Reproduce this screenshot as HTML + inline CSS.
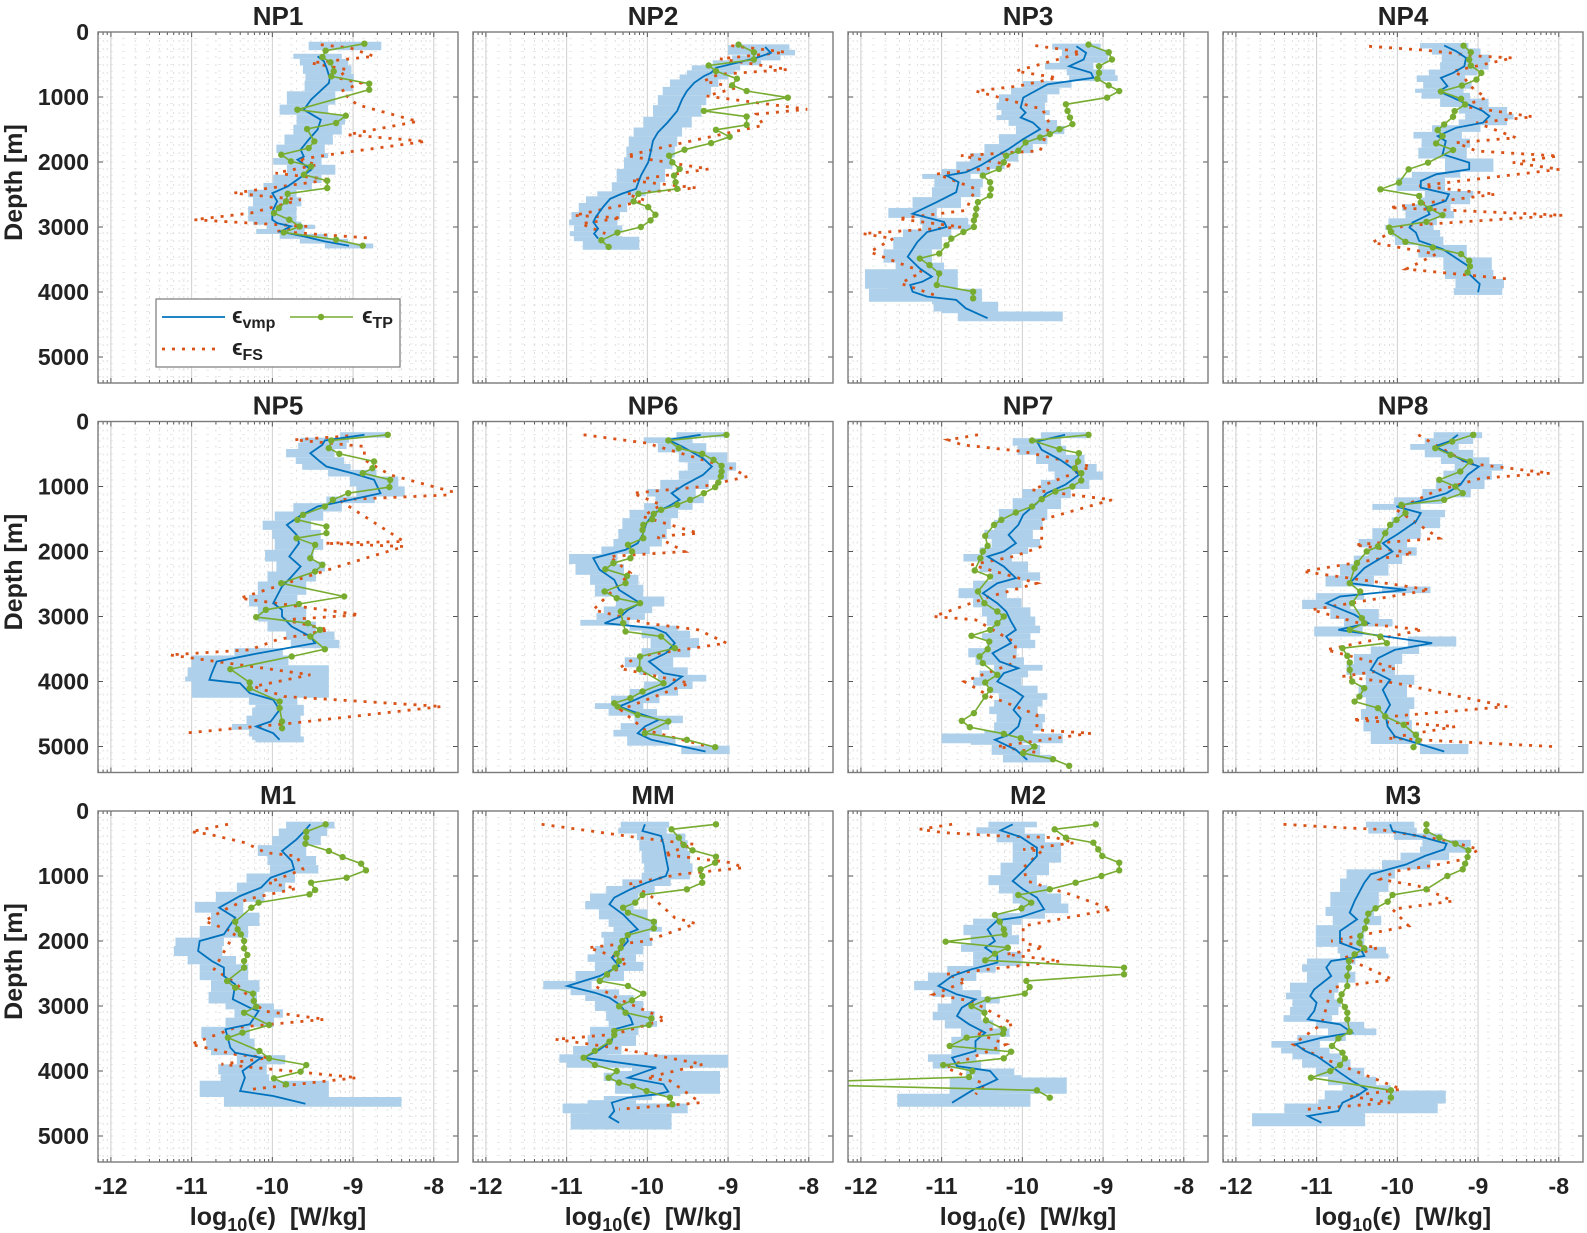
<!DOCTYPE html>
<html><head><meta charset="utf-8"><title>Dissipation profiles</title>
<style>
html,body{margin:0;padding:0;background:#fff;}
svg{display:block;font-family:"Liberation Sans",Arial,sans-serif;}
</style></head>
<body>
<svg id="fig" width="1587" height="1233" viewBox="0 0 1587 1233" xmlns="http://www.w3.org/2000/svg"></svg>
<script>
// ---------- data: [depth (m), log10(eps)] ----------
const np1Vmp=[[375,-9.44],[450,-9.36],[580,-9.32],[710,-9.29],[785,-9.30],[1040,-9.52],[1195,-9.61],[1350,-9.40],[1500,-9.44],[1655,-9.55],[1810,-9.65],[1915,-9.61],[1965,-9.69],[2120,-9.52],[2270,-9.69],[2375,-9.81],[2480,-10.0],[2605,-9.94],[2760,-10.0],[2890,-10.0],[2940,-9.94],[2990,-9.77],[3070,-9.90],[3145,-9.61],[3220,-9.36],[3290,-9.05]];
const np1Tp=[[180,-8.86],[287,-9.34],[385,-9.38],[467,-9.28],[605,-9.24],[682,-9.27],[795,-8.80],[888,-8.80],[1195,-9.69],[1288,-9.09],[1400,-9.21],[1493,-9.57],[1683,-9.48],[1785,-9.55],[1888,-9.89],[1990,-9.77],[2068,-9.52],[2196,-9.61],[2288,-9.32],[2401,-9.32],[2488,-9.81],[2606,-9.83],[2709,-9.92],[2786,-9.98],[2888,-9.79],[2991,-9.66],[3083,-9.86],[3196,-9.21],[3288,-8.88]];
const np1Fs=[[195,-9.40],[246,-9.03],[323,-8.86],[374,-8.74],[477,-9.52],[580,-9.07],[708,-9.19],[785,-8.90],[913,-9.15],[1118,-8.95],[1375,-8.20],[1580,-9.07],[1683,-8.10],[1862,-9.15],[1965,-9.69],[2042,-9.44],[2170,-9.96],[2273,-9.28],[2478,-10.48],[2580,-9.65],[2786,-10.27],[2888,-10.97],[2991,-9.57],[3068,-9.94],[3170,-8.80]];
const np1Shade=[[150,280,-9.55,-8.65]];

const np2Vmp=[[230,-8.54],[321,-8.47],[398,-8.65],[474,-8.89],[551,-9.15],[628,-9.21],[679,-9.30],[781,-9.42],[908,-9.51],[1036,-9.57],[1214,-9.63],[1393,-9.75],[1546,-9.87],[1673,-9.93],[1852,-9.96],[2005,-9.99],[2209,-10.08],[2413,-10.14],[2490,-10.32],[2566,-10.46],[2694,-10.55],[2847,-10.64],[2923,-10.67],[3026,-10.61],[3102,-10.66],[3179,-10.61]];
const np2Tp=[[194,-8.87],[311,-8.68],[423,-8.68],[515,-9.24],[602,-9.15],[719,-8.89],[821,-8.95],[908,-8.77],[1010,-8.26],[1214,-9.30],[1301,-8.77],[1429,-8.77],[1505,-9.15],[1612,-8.98],[1709,-9.21],[1811,-9.54],[1903,-9.73],[2005,-9.69],[2107,-9.60],[2209,-9.67],[2311,-9.65],[2413,-9.63],[2490,-10.11],[2607,-10.17],[2694,-9.99],[2811,-9.90],[2898,-9.96],[3000,-10.08],[3087,-10.37],[3204,-10.57],[3306,-10.48]];
const np2Fs=[[209,-8.96],[311,-8.29],[413,-9.10],[577,-8.26],[653,-9.12],[755,-9.30],[857,-8.89],[985,-9.27],[1189,-8.02],[1265,-8.65],[1434,-8.56],[1699,-9.54],[1903,-10.26],[2107,-9.24],[2286,-10.20],[2398,-9.39],[2490,-10.26],[2592,-10.02],[2821,-10.91],[2860,-10.32],[2949,-10.82],[3102,-10.52]];
const np2Shade=[[200,350,-9.0,-8.3],[3150,3350,-10.8,-10.1]];

const np3Vmp=[[219,-9.33],[321,-9.21],[423,-9.24],[526,-9.42],[628,-9.15],[704,-9.12],[806,-9.69],[908,-9.84],[1010,-9.99],[1163,-10.02],[1240,-9.96],[1316,-10.02],[1393,-9.87],[1495,-9.78],[1648,-9.99],[1801,-10.17],[1929,-10.35],[2056,-10.52],[2158,-10.70],[2209,-10.94],[2311,-10.79],[2464,-10.82],[2617,-11.06],[2796,-11.36],[2923,-10.97],[3000,-10.94],[3077,-11.18],[3230,-11.30],[3459,-11.42],[3638,-11.27],[3765,-11.12],[3842,-11.24],[3893,-11.39],[3995,-11.36],[4071,-11.18],[4122,-10.82],[4250,-10.70],[4403,-10.43]];
const np3Tp=[[194,-9.18],[311,-8.93],[423,-8.89],[526,-9.05],[628,-9.05],[719,-9.07],[821,-8.93],[908,-8.80],[1010,-8.95],[1112,-9.46],[1214,-9.44],[1316,-9.41],[1418,-9.38],[1495,-9.54],[1571,-9.66],[1622,-9.78],[1699,-9.96],[1827,-10.05],[1903,-10.20],[2005,-10.23],[2107,-10.29],[2209,-10.49],[2311,-10.40],[2413,-10.39],[2515,-10.40],[2617,-10.55],[2719,-10.57],[2821,-10.58],[2898,-10.60],[2999,-10.60],[3077,-10.73],[3179,-10.88],[3281,-10.94],[3408,-11.03],[3485,-11.27],[3587,-11.15],[3714,-11.03],[3893,-11.06],[3995,-10.61],[4097,-10.61]];
const np3Fs=[[209,-9.84],[281,-9.42],[321,-9.27],[602,-10.08],[704,-9.57],[832,-10.05],[908,-10.58],[1189,-9.75],[1418,-9.66],[1827,-9.78],[1903,-10.76],[2056,-10.11],[2184,-11.06],[2413,-10.58],[2745,-10.70],[2872,-11.54],[3000,-10.76],[3102,-11.98],[3179,-11.60],[3383,-11.89],[3689,-11.24],[3867,-11.51],[4046,-11.09]];
const np3Shade=[[3650,3950,-11.95,-10.8],[3950,4150,-11.9,-10.5],[4150,4300,-11.1,-10.3],[4300,4450,-10.8,-9.5]];

const np4Vmp=[[210,-9.42],[297,-9.27],[399,-9.15],[527,-9.17],[629,-9.31],[706,-9.46],[834,-9.38],[910,-9.48],[962,-9.40],[1089,-9.17],[1217,-8.94],[1294,-8.86],[1396,-8.94],[1473,-9.27],[1601,-9.50],[1678,-9.40],[1882,-9.44],[2010,-9.11],[2113,-9.11],[2189,-9.52],[2292,-9.71],[2394,-9.71],[2496,-9.36],[2598,-9.40],[2701,-9.64],[2803,-9.60],[2931,-9.81],[3008,-9.85],[3084,-9.77],[3212,-9.73],[3340,-9.44],[3596,-9.13],[3724,-9.11],[3877,-8.98],[4005,-9.00]];
const np4Tp=[[210,-9.18],[312,-9.09],[425,-9.11],[517,-9.09],[629,-8.96],[731,-9.02],[824,-9.20],[916,-9.46],[1028,-9.21],[1115,-9.16],[1217,-9.29],[1304,-9.31],[1422,-9.42],[1509,-9.50],[1601,-9.44],[1714,-9.52],[1816,-9.31],[2010,-9.62],[2113,-9.86],[2317,-9.98],[2420,-10.21],[2522,-9.73],[2624,-9.71],[2716,-9.60],[2818,-9.44],[2921,-9.64],[3008,-10.10],[3074,-10.08],[3228,-9.90],[3315,-9.56],[3417,-9.21],[3519,-9.11],[3606,-9.10],[3698,-9.13]];
const np4Fs=[[220,-10.35],[281,-9.64],[373,-8.98],[399,-8.57],[604,-9.31],[680,-9.19],[860,-9.07],[1013,-8.90],[1141,-9.19],[1304,-8.32],[1396,-9.02],[1627,-8.53],[1703,-9.27],[1831,-9.02],[1908,-8.01],[2010,-8.57],[2113,-7.99],[2368,-9.73],[2496,-8.78],[2701,-10.10],[2818,-7.95],[2982,-9.93],[3238,-10.31],[3417,-9.52],[3647,-9.89],[3801,-8.61]];
const np4Shade=[];

const np5Vmp=[[205,-8.86],[292,-9.35],[359,-9.38],[487,-9.53],[615,-9.41],[692,-9.33],[795,-9.01],[897,-8.74],[1103,-8.66],[1205,-9.03],[1308,-9.44],[1462,-9.67],[1590,-9.82],[1744,-9.70],[1872,-9.67],[2077,-9.79],[2231,-9.65],[2385,-9.76],[2538,-9.88],[2795,-9.99],[2897,-9.88],[3000,-9.88],[3154,-9.76],[3308,-9.53],[3410,-9.47],[3564,-10.17],[3692,-10.69],[3872,-10.75],[3974,-10.78],[4026,-10.40],[4179,-10.28],[4282,-9.99],[4436,-9.91],[4615,-10.02],[4692,-10.20],[4795,-9.99],[4897,-9.91]];
const np5Tp=[[205,-8.57],[292,-9.27],[410,-9.30],[497,-9.17],[615,-8.74],[718,-8.76],[795,-8.88],[897,-8.54],[1010,-8.55],[1103,-9.06],[1205,-9.25],[1308,-9.35],[1436,-9.62],[1513,-9.69],[1615,-9.33],[1718,-9.33],[1795,-9.70],[1897,-9.47],[2103,-9.53],[2205,-9.38],[2308,-9.47],[2487,-9.89],[2692,-9.11],[2808,-9.67],[2897,-10.08],[3010,-10.20],[3103,-9.56],[3205,-9.41],[3308,-9.53],[3503,-9.35],[3615,-9.76],[3810,-10.52],[4015,-10.28],[4103,-10.28],[4308,-9.91],[4410,-9.91],[4615,-9.88],[4718,-9.88]];
const np5Fs=[[221,-9.06],[282,-9.73],[385,-8.86],[590,-8.86],[821,-8.54],[1077,-7.78],[1128,-7.78],[1205,-9.18],[1846,-8.37],[1872,-9.35],[1923,-8.37],[2231,-9.18],[2718,-10.40],[2974,-8.92],[3051,-9.85],[3205,-9.30],[3359,-9.94],[3513,-10.28],[3590,-11.27],[3897,-9.53],[4077,-10.23],[4231,-9.85],[4385,-7.90],[4641,-9.76],[4795,-11.10]];
const np5Shade=[[3600,3750,-11.0,-9.8],[3750,4250,-11.0,-9.3],[4400,4900,-10.25,-9.65]];

const np6Vmp=[[205,-9.34],[282,-9.74],[385,-9.57],[564,-9.31],[692,-9.20],[821,-9.31],[974,-9.54],[1103,-9.70],[1205,-9.60],[1308,-9.74],[1410,-9.92],[1564,-10.01],[1744,-10.06],[1872,-10.12],[1974,-10.27],[2103,-10.67],[2282,-10.59],[2436,-10.41],[2590,-10.35],[2795,-10.09],[2897,-10.24],[3000,-10.33],[3103,-10.53],[3179,-9.92],[3256,-9.77],[3410,-9.66],[3564,-9.77],[3692,-9.98],[3872,-9.80],[3923,-9.57],[4077,-9.74],[4154,-9.92],[4282,-10.15],[4385,-10.35],[4462,-10.18],[4590,-9.86],[4692,-10.03],[4795,-10.12],[4897,-9.95],[5077,-9.28]];
const np6Tp=[[205,-9.02],[292,-9.74],[410,-9.61],[497,-9.32],[590,-9.18],[682,-9.08],[769,-9.08],[846,-9.09],[938,-9.12],[1010,-9.16],[1103,-9.30],[1205,-9.47],[1282,-9.63],[1359,-9.83],[1421,-9.92],[1503,-9.94],[1590,-10.05],[1667,-10.06],[1795,-10.05],[1897,-10.24],[2000,-10.19],[2103,-10.21],[2179,-10.42],[2272,-10.52],[2374,-10.25],[2487,-10.27],[2615,-10.53],[2718,-10.38],[2795,-10.09],[2923,-10.33],[3103,-10.30],[3231,-10.27],[3308,-9.83],[3487,-9.66],[3615,-10.09],[3810,-10.10],[4026,-9.80],[4154,-10.06],[4256,-10.21],[4333,-10.41],[4385,-10.37],[4513,-10.12],[4615,-9.74],[4795,-10.03],[4897,-9.51],[5010,-9.16]];
const np6Fs=[[205,-10.79],[333,-10.01],[718,-8.96],[846,-8.76],[1000,-9.31],[1103,-10.18],[1282,-9.83],[1462,-10.06],[1718,-9.37],[1769,-9.89],[2000,-9.54],[2077,-10.47],[2333,-10.21],[2897,-10.67],[3103,-10.01],[3205,-9.37],[3410,-9.02],[3615,-10.12],[3795,-10.35],[4026,-9.48],[4436,-10.33],[4744,-10.03],[5000,-9.25]];
const np6Shade=[];

const np7Vmp=[[205,-9.47],[308,-9.82],[436,-9.76],[590,-9.53],[718,-9.38],[821,-9.30],[974,-9.47],[1103,-9.70],[1256,-9.82],[1436,-9.99],[1590,-10.05],[1744,-10.17],[1872,-10.08],[2000,-10.23],[2077,-10.43],[2231,-10.23],[2410,-10.08],[2487,-10.31],[2641,-10.49],[2795,-10.31],[2923,-10.20],[3077,-10.14],[3205,-10.08],[3308,-10.20],[3410,-10.14],[3564,-10.37],[3692,-10.28],[3795,-10.05],[3872,-10.23],[4000,-10.31],[4128,-10.11],[4231,-9.99],[4333,-10.05],[4436,-10.11],[4564,-10.02],[4692,-10.05],[4821,-10.17],[4897,-10.34],[5051,-10.08],[5205,-9.94]];
const np7Tp=[[205,-9.18],[292,-9.88],[426,-9.54],[487,-9.30],[615,-9.31],[718,-9.35],[795,-9.27],[908,-9.27],[1000,-9.38],[1077,-9.59],[1195,-9.76],[1308,-9.88],[1400,-10.08],[1513,-10.26],[1590,-10.35],[1759,-10.46],[1913,-10.43],[2000,-10.49],[2103,-10.52],[2292,-10.59],[2385,-10.40],[2615,-10.55],[2795,-10.47],[2923,-10.31],[3000,-10.23],[3103,-10.31],[3205,-10.40],[3297,-10.63],[3385,-10.41],[3503,-10.43],[3615,-10.53],[3718,-10.49],[3897,-10.31],[4015,-10.46],[4128,-10.40],[4231,-10.46],[4487,-10.60],[4605,-10.75],[4703,-10.65],[4805,-10.23],[4872,-10.02],[5000,-9.85],[5103,-9.99],[5195,-9.62],[5297,-9.42]];
const np7Fs=[[205,-10.55],[282,-10.92],[359,-10.75],[462,-9.99],[692,-9.15],[1051,-9.88],[1205,-8.89],[1513,-9.76],[1923,-9.76],[2077,-10.11],[2205,-10.63],[2487,-9.82],[2692,-10.40],[3000,-11.10],[3051,-10.58],[3410,-10.08],[3718,-10.11],[4000,-10.72],[4231,-10.40],[4513,-9.82],[4744,-9.82],[4795,-9.15],[5000,-10.31],[5103,-9.76]];
const np7Shade=[[4800,4950,-11.0,-9.5]];

const np8Vmp=[[205,-9.25],[308,-9.36],[385,-9.54],[487,-9.36],[615,-9.16],[692,-8.99],[821,-9.13],[974,-9.22],[1103,-9.39],[1231,-9.74],[1308,-10.01],[1410,-9.71],[1538,-9.77],[1744,-10.01],[1872,-10.18],[2000,-10.06],[2128,-10.24],[2256,-10.41],[2487,-10.59],[2590,-9.89],[2692,-10.71],[2795,-10.88],[2974,-10.53],[3103,-10.36],[3205,-10.73],[3410,-9.57],[3513,-10.03],[3641,-10.24],[3821,-10.33],[3974,-10.09],[4128,-10.18],[4359,-10.09],[4487,-10.15],[4692,-10.12],[4846,-10.03],[5077,-9.42]];
const np8Tp=[[205,-9.06],[308,-9.32],[410,-9.53],[513,-9.34],[615,-9.10],[769,-9.22],[897,-9.48],[1000,-9.28],[1103,-9.19],[1205,-9.42],[1282,-9.95],[1410,-9.90],[1513,-10.01],[1590,-10.09],[1718,-10.15],[1923,-10.24],[2000,-10.38],[2179,-10.50],[2256,-10.53],[2487,-10.59],[2615,-10.46],[2795,-10.56],[3026,-10.44],[3103,-10.41],[3205,-10.59],[3308,-10.21],[3410,-10.13],[3487,-10.68],[3605,-10.62],[3708,-10.59],[3821,-10.59],[4000,-10.56],[4103,-10.41],[4231,-10.47],[4308,-10.53],[4410,-10.24],[4538,-10.15],[4667,-9.92],[4821,-9.77],[4908,-9.74],[5010,-9.80]];
const np8Fs=[[205,-9.74],[308,-9.60],[641,-9.13],[795,-8.11],[872,-8.96],[1077,-9.54],[1359,-10.01],[1795,-9.48],[1897,-10.53],[2026,-9.80],[2308,-11.17],[2513,-10.01],[2590,-9.60],[2897,-11.06],[3103,-10.47],[3205,-9.69],[3513,-10.88],[3795,-10.01],[3923,-10.68],[4026,-10.01],[4385,-8.64],[4590,-10.56],[4692,-9.28],[4872,-10.12],[5000,-8.08]];
const np8Shade=[];

const m1Vmp=[[205,-9.53],[333,-9.62],[436,-9.70],[615,-9.88],[769,-9.76],[897,-9.73],[1026,-10.02],[1179,-10.14],[1308,-10.40],[1487,-10.66],[1641,-10.46],[1897,-10.60],[2000,-10.90],[2154,-10.92],[2308,-10.75],[2410,-10.60],[2538,-10.60],[2667,-10.46],[2897,-10.49],[3026,-10.28],[3077,-10.17],[3282,-10.28],[3359,-10.58],[3641,-10.52],[3718,-10.46],[3795,-10.14],[4000,-10.37],[4103,-10.34],[4308,-10.40],[4385,-9.99],[4503,-9.59]];
const m1Tp=[[205,-9.34],[318,-9.58],[410,-9.58],[503,-9.59],[615,-9.30],[708,-9.13],[810,-8.90],[913,-8.84],[1026,-9.08],[1103,-9.52],[1215,-9.47],[1282,-9.54],[1410,-10.17],[1487,-10.26],[1703,-10.46],[1821,-10.43],[1897,-10.39],[2000,-10.35],[2113,-10.35],[2215,-10.31],[2308,-10.35],[2410,-10.35],[2615,-10.56],[2718,-10.46],[2810,-10.24],[2923,-10.23],[3010,-10.20],[3103,-10.35],[3292,-10.04],[3410,-10.37],[3487,-10.55],[3692,-10.16],[3805,-10.04],[3908,-9.58],[4010,-9.65],[4113,-9.98],[4205,-9.83]];
const m1Fs=[[205,-10.55],[318,-11.01],[359,-10.78],[487,-10.34],[641,-10.08],[692,-9.70],[897,-9.62],[1103,-10.05],[1190,-9.70],[1359,-10.31],[1513,-10.58],[1692,-10.84],[1872,-10.46],[2231,-10.63],[2436,-10.72],[2641,-10.46],[2872,-10.28],[3077,-10.11],[3205,-9.35],[3333,-10.46],[3590,-11.01],[3744,-10.46],[3795,-10.05],[3897,-10.63],[4103,-8.95],[4282,-10.26]];
const m1Shade=[[4150,4400,-10.9,-9.3],[4400,4550,-10.6,-8.4]];

const mmVmp=[[205,-10.03],[308,-10.06],[385,-9.83],[513,-9.80],[718,-9.77],[897,-9.74],[1000,-9.77],[1103,-10.01],[1205,-10.21],[1333,-10.41],[1436,-10.47],[1590,-10.30],[1744,-10.18],[1821,-10.12],[1897,-10.27],[2000,-10.24],[2154,-10.35],[2256,-10.44],[2385,-10.35],[2538,-10.59],[2692,-10.99],[2795,-10.65],[2872,-10.47],[2974,-10.35],[3179,-10.21],[3282,-10.18],[3359,-10.41],[3538,-10.44],[3692,-10.62],[3795,-10.79],[3949,-9.89],[4103,-10.24],[4205,-9.80],[4318,-9.74],[4359,-9.89],[4410,-10.24],[4487,-10.44],[4615,-10.41],[4708,-10.47],[4795,-10.35]];
const mmTp=[[205,-9.15],[282,-9.70],[410,-9.61],[523,-9.55],[605,-9.44],[703,-9.15],[795,-9.16],[897,-9.34],[1000,-9.32],[1103,-9.32],[1205,-9.51],[1292,-10.06],[1410,-10.15],[1487,-10.30],[1564,-10.24],[1703,-9.92],[1805,-9.92],[1908,-10.24],[2000,-10.31],[2103,-10.33],[2195,-10.38],[2308,-10.35],[2410,-10.40],[2513,-10.50],[2615,-10.59],[2692,-10.24],[2810,-10.05],[2913,-10.19],[3005,-10.35],[3103,-10.27],[3190,-9.95],[3292,-9.98],[3385,-10.41],[3446,-10.41],[3549,-10.47],[3692,-10.65],[3795,-10.79],[3908,-10.65],[4000,-10.38],[4103,-10.48],[4179,-10.35],[4231,-10.18],[4308,-10.01],[4410,-9.72],[4513,-9.69]];
const mmFs=[[205,-11.31],[308,-10.70],[410,-10.12],[513,-9.42],[667,-9.80],[795,-8.96],[872,-8.81],[974,-9.60],[1128,-10.24],[1282,-9.98],[1641,-9.66],[1733,-9.40],[2000,-10.01],[2103,-10.73],[2308,-10.24],[2692,-10.65],[2923,-10.30],[3205,-9.77],[3436,-10.41],[3513,-11.14],[3641,-10.41],[3897,-9.31],[4103,-10.01],[4150,-9.72],[4487,-9.34],[4590,-10.35]];
const mmShade=[[3750,3950,-11.0,-9.0],[4000,4350,-10.4,-9.1],[4500,4650,-11.05,-9.5],[4650,4900,-10.95,-9.7]];

const m2Vmp=[[205,-10.12],[297,-10.27],[400,-10.02],[564,-9.82],[692,-9.82],[897,-9.97],[1077,-10.12],[1205,-9.99],[1333,-9.82],[1513,-9.73],[1631,-10.02],[1682,-10.31],[1821,-10.43],[2000,-10.34],[2103,-10.46],[2231,-10.31],[2333,-10.31],[2436,-10.63],[2538,-10.87],[2692,-11.04],[2821,-10.81],[2897,-10.58],[3026,-10.75],[3154,-10.81],[3282,-10.66],[3410,-10.46],[3538,-10.58],[3692,-10.58],[3795,-10.87],[3923,-10.81],[4000,-10.40],[4128,-10.31],[4215,-10.46],[4282,-10.60],[4487,-10.87]];
const m2Tp=[[205,-9.09],[282,-9.60],[410,-9.46],[487,-9.12],[590,-9.06],[692,-9.01],[795,-8.80],[913,-8.80],[1000,-9.02],[1103,-9.34],[1205,-9.66],[1292,-10.05],[1410,-9.89],[1497,-10.01],[1600,-10.34],[1703,-10.28],[1821,-10.23],[1897,-10.22],[2010,-10.95],[2103,-10.18],[2195,-10.34],[2297,-10.46],[2410,-8.74],[2513,-8.74],[2615,-9.95],[2708,-9.91],[2810,-9.97],[2897,-10.43],[3000,-10.63],[3103,-10.47],[3221,-10.45],[3359,-10.23],[3426,-10.24],[3487,-10.69],[3615,-10.90],[3703,-10.14],[3805,-10.23],[3908,-10.98],[4000,-10.62],[4092,-10.66],[4164,-12.5],[4215,-12.5],[4297,-9.82],[4410,-9.66]];
const m2Fs=[[205,-10.87],[282,-11.27],[333,-10.98],[385,-10.26],[410,-9.59],[487,-9.35],[590,-9.99],[615,-9.76],[872,-9.99],[1077,-9.94],[1282,-9.41],[1513,-8.89],[1769,-9.99],[2026,-9.99],[2103,-9.73],[2205,-10.20],[2308,-9.53],[2513,-10.95],[2615,-10.69],[2821,-11.10],[2923,-10.63],[3282,-10.11],[3410,-10.58],[3590,-10.20],[3949,-10.95],[4205,-10.46],[4359,-10.58]];
const m2Shade=[[4100,4350,-10.9,-9.45],[4350,4550,-11.55,-9.9]];

const m3Vmp=[[205,-10.09],[308,-10.06],[385,-9.74],[503,-9.39],[590,-9.42],[692,-9.66],[821,-9.89],[974,-10.33],[1103,-10.41],[1385,-10.53],[1564,-10.59],[1667,-10.50],[1846,-10.71],[2026,-10.71],[2154,-10.44],[2231,-10.41],[2308,-10.82],[2410,-10.88],[2538,-10.82],[2744,-11.03],[2846,-11.08],[2949,-11.00],[3077,-11.03],[3205,-11.11],[3282,-10.71],[3410,-10.56],[3487,-10.94],[3590,-11.26],[3692,-11.14],[3769,-11.00],[3872,-10.88],[4026,-10.71],[4154,-10.56],[4282,-10.38],[4385,-10.50],[4487,-10.68],[4615,-10.73],[4692,-11.11],[4795,-10.94]];
const m3Tp=[[205,-9.64],[308,-9.64],[410,-9.48],[503,-9.28],[605,-9.12],[708,-9.13],[810,-9.16],[897,-9.19],[1000,-9.38],[1205,-9.64],[1292,-10.06],[1395,-10.12],[1497,-10.27],[1580,-10.36],[1692,-10.38],[1805,-10.40],[1923,-10.46],[2026,-10.47],[2113,-10.41],[2205,-10.53],[2308,-10.60],[2410,-10.60],[2538,-10.62],[2692,-10.62],[2821,-10.69],[2913,-10.71],[3015,-10.65],[3103,-10.62],[3205,-10.62],[3395,-10.59],[3497,-10.73],[3615,-10.81],[3718,-10.68],[3805,-10.65],[3908,-10.71],[4000,-10.83],[4103,-11.07],[4297,-10.08],[4410,-10.08]];
const m3Fs=[[205,-11.41],[256,-10.71],[282,-10.24],[462,-9.36],[590,-8.99],[744,-9.19],[821,-9.48],[923,-10.01],[1051,-10.21],[1154,-9.74],[1385,-9.31],[1513,-10.06],[1769,-9.86],[2000,-10.82],[2103,-10.24],[2256,-10.65],[2590,-10.06],[2718,-10.82],[3026,-10.88],[3282,-10.94],[3590,-11.29],[3795,-10.94],[4282,-9.95],[4385,-10.59],[4487,-10.09],[4590,-11.11]];
const m3Shade=[[4300,4500,-10.9,-9.4],[4500,4650,-11.4,-9.5],[4650,4850,-11.8,-10.4]];

const panelTitles=['NP1','NP2','NP3','NP4','NP5','NP6','NP7','NP8','M1','MM','M2','M3'];
const xTicks=[-12,-11,-10,-9,-8];
const yTicks=[0,1000,2000,3000,4000,5000];

const panels=[
 {vmp:np1Vmp,tp:np1Tp,fs:np1Fs,sh:np1Shade},{vmp:np2Vmp,tp:np2Tp,fs:np2Fs,sh:np2Shade},
 {vmp:np3Vmp,tp:np3Tp,fs:np3Fs,sh:np3Shade},{vmp:np4Vmp,tp:np4Tp,fs:np4Fs,sh:np4Shade},
 {vmp:np5Vmp,tp:np5Tp,fs:np5Fs,sh:np5Shade},{vmp:np6Vmp,tp:np6Tp,fs:np6Fs,sh:np6Shade},
 {vmp:np7Vmp,tp:np7Tp,fs:np7Fs,sh:np7Shade},{vmp:np8Vmp,tp:np8Tp,fs:np8Fs,sh:np8Shade},
 {vmp:m1Vmp,tp:m1Tp,fs:m1Fs,sh:m1Shade},{vmp:mmVmp,tp:mmTp,fs:mmFs,sh:mmShade},
 {vmp:m2Vmp,tp:m2Tp,fs:m2Fs,sh:m2Shade},{vmp:m3Vmp,tp:m3Tp,fs:m3Fs,sh:m3Shade}
];

// ---------- layout ----------
const NS='http://www.w3.org/2000/svg';
const svg=document.getElementById('fig');
const PW=360, PH=351, X0=98, DX=375, ROWTOP=[32,421.5,811];
const XMIN=-12.16, XMAX=-7.70, YMAX=5400, HALF=0.3;
const BLUE='#0072BD', GREEN='#77AC30', ORANGE='#D95319', SHADE='#AED0EA';

function mk(tag,attrs,parent){const e=document.createElementNS(NS,tag);for(const k in attrs)e.setAttribute(k,attrs[k]);(parent||svg).appendChild(e);return e;}

const defs=mk('defs',{});

panels.forEach((p,i)=>{
  const row=Math.floor(i/4), col=i%4;
  const L=X0+col*DX, T=ROWTOP[row];
  const xs=v=>L+(v-XMIN)/(XMAX-XMIN)*PW;
  const ys=d=>T+d/YMAX*PH;
  const g=mk('g',{});
  
  
  const cp=mk('clipPath',{id:'cp'+i},defs);
  mk('rect',{x:L,y:T,width:PW,height:PH},cp);
  mk('rect',{x:L,y:T,width:PW,height:PH,fill:'#fff'},g);
  const grid=mk('g',{},g);
  
  
  for(let dec=-13;dec<=-8;dec++){
    for(let m=2;m<=9;m++){const v=dec+Math.log10(m);if(v>XMIN&&v<XMAX)mk('line',{x1:xs(v),x2:xs(v),y1:T,y2:T+PH,stroke:'#d8d8d8','stroke-width':0.8,'stroke-dasharray':'2 6'},grid);}
  }
  for(let d=100;d<YMAX;d+=100){mk('line',{x1:L,x2:L+PW,y1:ys(d),y2:ys(d),stroke:'#e2e2e2','stroke-width':0.8,'stroke-dasharray':'3 9'},grid);}
  xTicks.forEach(v=>mk('line',{x1:xs(v),x2:xs(v),y1:T,y2:T+PH,stroke:'#cfcfcf','stroke-width':1},grid));
  const plot=mk('g',{'clip-path':'url(#cp'+i+')'},g);
  const sh=mk('g',{fill:SHADE},plot);
  
  
  const V=p.vmp;
  V.forEach((pt,k)=>{
    const d0=k===0?pt[0]-40:(V[k-1][0]+pt[0])/2;
    const d1=k===V.length-1?pt[0]+40:(pt[0]+V[k+1][0])/2;
    mk('rect',{x:xs(pt[1]-HALF),y:ys(d0),width:xs(pt[1]+HALF)-xs(pt[1]-HALF),height:ys(d1)-ys(d0)},sh);
  });
  p.sh.forEach(b=>mk('rect',{x:xs(b[2]),y:ys(b[0]),width:xs(b[3])-xs(b[2]),height:ys(b[1])-ys(b[0])},sh));
  const pts=arr=>arr.map(q=>xs(q[1]).toFixed(1)+','+ys(q[0]).toFixed(1)).join(' ');
  const fs=mk('polyline',{points:pts(p.fs),fill:'none',stroke:ORANGE,'stroke-width':2.8,'stroke-dasharray':'3 7'},plot);
  
  
  const bl=mk('polyline',{points:pts(p.vmp),fill:'none',stroke:BLUE,'stroke-width':1.8},plot);
  
  
  const gr=mk('polyline',{points:pts(p.tp),fill:'none',stroke:GREEN,'stroke-width':1.6},plot);
  
  
  const dots=mk('g',{fill:GREEN},plot);
  
  
  p.tp.forEach(q=>mk('circle',{cx:xs(q[1]),cy:ys(q[0]),r:3.2},dots));
  const tk=mk('g',{stroke:'#555','stroke-width':1},g);
  
  
  yTicks.forEach(d=>{mk('line',{x1:L,x2:L+5,y1:ys(d),y2:ys(d)},tk);mk('line',{x1:L+PW-5,x2:L+PW,y1:ys(d),y2:ys(d)},tk);});
  for(let dec=-13;dec<=-8;dec++)for(let m=1;m<=9;m++){const v=dec+Math.log10(m);if(v>XMIN&&v<XMAX){const len=m===1?5:3;mk('line',{x1:xs(v),x2:xs(v),y1:T,y2:T+len},tk);mk('line',{x1:xs(v),x2:xs(v),y1:T+PH-len,y2:T+PH},tk);}}
  mk('rect',{x:L,y:T,width:PW,height:PH,fill:'none',stroke:'#7a7a7a','stroke-width':1.4},g);
  const t=mk('text',{x:L+PW/2,y:T-7,'text-anchor':'middle','font-size':26,'font-weight':'bold',fill:'#222'},g);
  t.textContent=panelTitles[i];
  
  
  if(col===0){
    yTicks.forEach(d=>{const y=mk('text',{x:L-9,y:ys(d)+8,'text-anchor':'end','font-size':23,'font-weight':'bold',fill:'#222'},g);y.textContent=d;
      
      });
    const yl=mk('text',{x:0,y:0,transform:'translate(22,'+(T+PH/2-25)+') rotate(-90)','text-anchor':'middle','font-size':25,'font-weight':'bold',fill:'#222'},g);
    yl.textContent='Depth [m]';
    
    
  }
  if(row===2){
    xTicks.forEach(v=>{const x=mk('text',{x:xs(v),y:T+PH+32,'text-anchor':'middle','font-size':23,'font-weight':'bold',fill:'#222'},g);x.textContent=v;
      
      });
    const xl=mk('text',{x:L+PW/2,y:T+PH+63,'text-anchor':'middle','font-size':25,'font-weight':'bold',fill:'#222','xml:space':'preserve'},g);
    xl.innerHTML='log<tspan font-size="18" dy="6">10</tspan><tspan dy="-6">(ϵ)\u00a0\u00a0[W/kg]</tspan>';
    
    
  }
});

const lg=mk('g',{});


mk('rect',{x:156,y:299,width:244,height:68,fill:'#fff',stroke:'#7a7a7a','stroke-width':1.2},lg);
mk('line',{x1:162,x2:225,y1:317,y2:317,stroke:BLUE,'stroke-width':1.8},lg);
mk('line',{x1:290,x2:353,y1:317,y2:317,stroke:GREEN,'stroke-width':1.6},lg);
mk('circle',{cx:321,cy:317,r:3.2,fill:GREEN},lg);
mk('line',{x1:162,x2:222,y1:349,y2:349,stroke:ORANGE,'stroke-width':2.8,'stroke-dasharray':'3 7'},lg);
const l1=mk('text',{x:232,y:323,'font-size':22,'font-weight':'bold',fill:'#222'},lg);l1.innerHTML='ϵ<tspan font-size="16" dy="5">vmp</tspan>';


const l2=mk('text',{x:362,y:323,'font-size':22,'font-weight':'bold',fill:'#222'},lg);l2.innerHTML='ϵ<tspan font-size="16" dy="5">TP</tspan>';


const l3=mk('text',{x:232,y:355,'font-size':22,'font-weight':'bold',fill:'#222'},lg);l3.innerHTML='ϵ<tspan font-size="16" dy="5">FS</tspan>';


</script>
</body></html>
